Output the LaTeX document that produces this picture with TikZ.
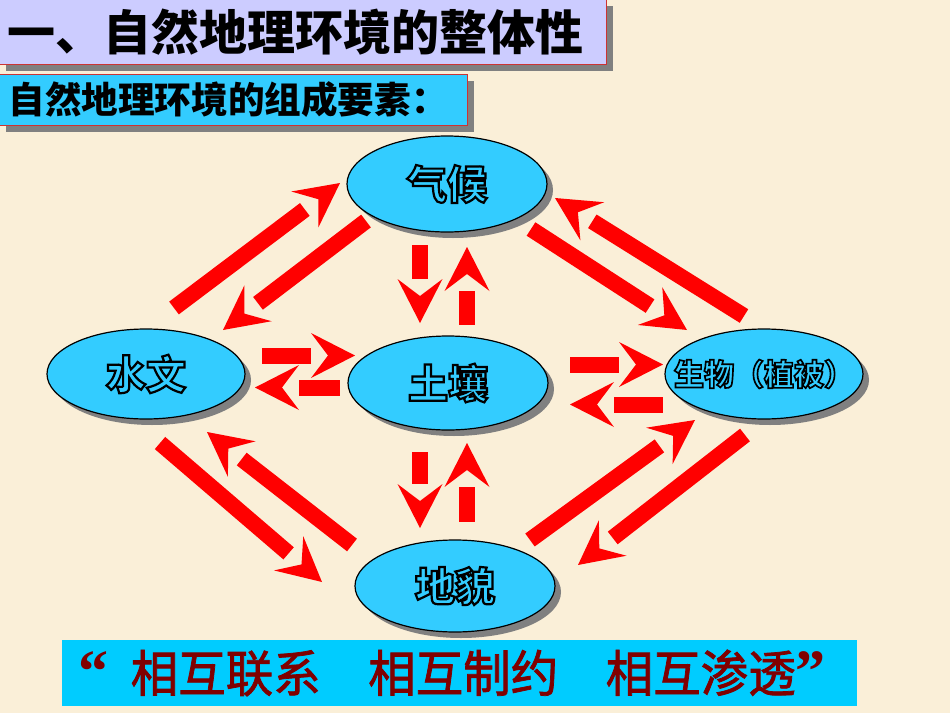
\documentclass[tikz,border=0pt]{standalone}
\usepackage{fontspec}
\usetikzlibrary{calc,shapes.geometric,shadows}
\newfontfamily\cjk{Noto Sans CJK SC}
\newfontfamily\ellfont[FakeBold=5.5]{Noto Sans CJK SC}
\newfontfamily\botfont[FakeStretch=0.95,FakeBold=1.5]{Noto Sans CJK SC}
\newfontfamily\quotefont{Liberation Serif}
\definecolor{bg}{HTML}{FAEFD8}
\definecolor{lav}{HTML}{CCCCFF}
\definecolor{cyanbox}{HTML}{33CCFF}
\definecolor{botcyan}{HTML}{00CCFF}
\definecolor{shadowgray}{HTML}{808080}
\definecolor{darkred}{HTML}{800000}
\definecolor{arrowred}{HTML}{FF0000}
\definecolor{boxedge}{HTML}{CC3333}
\newcommand\outl[1]{\makebox[0pt]{\special{pdf:bcolor [0.2 0.8 1] [0 0 0]}#1\special{pdf:ecolor}}}
\newcommand\redarrow[2]{%
  \coordinate (#1hb) at ($(#2)!22pt!(#1)$);
  \coordinate (#1nt) at ($(#2)!13.5pt!(#1)$);
  \fill[arrowred] ($(#1)!4pt!90:(#2)$) -- ($(#1hb)!4pt!90:(#2)$) -- ($(#1hb)!4pt!-90:(#2)$) -- ($(#1)!4pt!-90:(#2)$) -- cycle;
  \fill[arrowred] (#2) -- ($(#1hb)!11.25pt!90:(#2)$) -- (#1nt) -- ($(#1hb)!11.25pt!-90:(#2)$) -- cycle;
}
\tikzset{
  shadowed/.style={drop shadow={shadow xshift=3pt, shadow yshift=-3pt, opacity=1, fill=shadowgray}},
  elli/.style={ellipse, draw=black, line width=0.6pt, fill=cyanbox, inner sep=0pt, shadowed},
  elltext/.style={font=\ellfont\bfseries\fontsize{20pt}{20pt}\selectfont},
}
\begin{document}
\begin{tikzpicture}[x=0.5pt, y=-0.5pt]
\useasboundingbox (0,0) rectangle (950,713);
\fill[bg] (0,0) rectangle (950,713);
% title boxes
\node[anchor=west, shadowed, fill=lav, draw=boxedge, line width=0.6pt,
      text width=295.5pt, align=left, inner xsep=4pt, minimum height=32.5pt,
      font=\cjk\bfseries\fontsize{24pt}{24pt}\selectfont] (title) at (-1,32) {一、自然地理环境的整体性};
\node[anchor=west, shadowed, fill=cyanbox, draw=boxedge, line width=0.6pt,
      text width=225pt, align=left, inner xsep=4.5pt, minimum height=25.5pt,
      font=\cjk\bfseries\fontsize{18.3pt}{18.3pt}\selectfont] (sub) at (-1,100) {自然地理环境的组成要素：};
% arrows
\coordinate (a1) at (174,308); \coordinate (a1t) at (340,183);
\coordinate (a2) at (366,221); \coordinate (a2t) at (223,330);
\coordinate (a3) at (531,229); \coordinate (a3t) at (687,330);
\coordinate (a4) at (744,316); \coordinate (a4t) at (555,198);
\coordinate (a5) at (160,443); \coordinate (a5t) at (322,582);
\coordinate (a6) at (352,545); \coordinate (a6t) at (207,432);
\coordinate (a7) at (530,540); \coordinate (a7t) at (695,420);
\coordinate (a8) at (745,435); \coordinate (a8t) at (578,565);
\coordinate (v1) at (420,245); \coordinate (v1t) at (420,323);
\coordinate (v2) at (467,325); \coordinate (v2t) at (467,247);
\coordinate (v3) at (420,452); \coordinate (v3t) at (420,528);
\coordinate (v4) at (467,522); \coordinate (v4t) at (467,443);
\coordinate (h1) at (262,355.5); \coordinate (h1t) at (355,355.5);
\coordinate (h2) at (340,387.5); \coordinate (h2t) at (255,387.5);
\coordinate (h3) at (570,364.5); \coordinate (h3t) at (663,364.5);
\coordinate (h4) at (663,404.5); \coordinate (h4t) at (570,404.5);
\redarrow{a1}{a1t}\redarrow{a2}{a2t}\redarrow{a3}{a3t}\redarrow{a4}{a4t}
\redarrow{a5}{a5t}\redarrow{a6}{a6t}\redarrow{a7}{a7t}\redarrow{a8}{a8t}
\redarrow{v1}{v1t}\redarrow{v2}{v2t}\redarrow{v3}{v3t}\redarrow{v4}{v4t}
\redarrow{h1}{h1t}\redarrow{h2}{h2t}\redarrow{h3}{h3t}\redarrow{h4}{h4t}
% ellipses
\node[elli, minimum width=100pt, minimum height=48pt, elltext] (clim) at (447,184) {\outl{气候}};
\node[elli, minimum width=99pt, minimum height=45pt, elltext] (hydro) at (146,374) {\outl{水文}};
\node[elli, minimum width=100pt, minimum height=47pt, elltext] (soil) at (448,383) {\outl{土壤}};
\node[elli, minimum width=99pt, minimum height=45pt, elltext, font=\ellfont\bfseries\fontsize{15pt}{15pt}\selectfont] (bio) at (764,374) {\outl{生物（植被）}};
\node[elli, minimum width=100pt, minimum height=46pt, elltext] (land) at (455,586) {\outl{地貌}};
% bottom box
\node[fill=botcyan, minimum width=397.5pt, minimum height=33pt, inner sep=0pt] (motto) at (459.5,673) {};
\node[text=darkred, inner sep=0pt, font=\botfont\fontsize{25pt}{25pt}\selectfont] (mottotext) at (452,673)
  {{\quotefont\bfseries\fontsize{30pt}{30pt}\selectfont “}\hspace{0.45em}相互联系\hspace{0.95em}相互制约\hspace{0.95em}相互渗透{\quotefont\bfseries\fontsize{30pt}{30pt}\selectfont ”}};
\end{tikzpicture}
\end{document}
